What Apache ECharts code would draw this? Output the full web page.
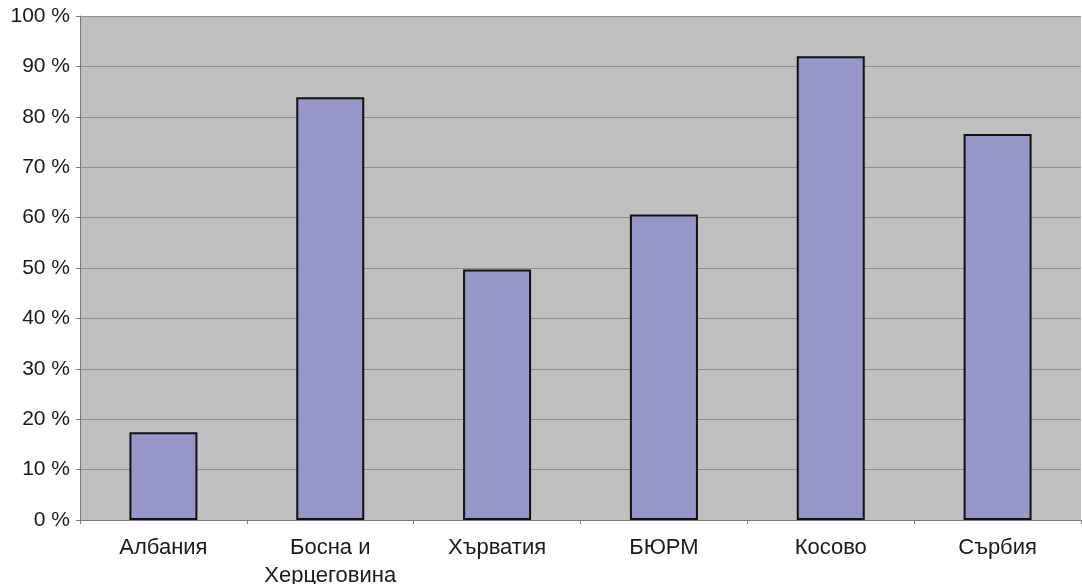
<!DOCTYPE html>
<html>
<head>
<meta charset="utf-8">
<script src="https://cdn.jsdelivr.net/npm/echarts@6/dist/echarts.min.js"></script>
<style>
  html, body { margin: 0; padding: 0; background: #ffffff; }
  #chart { width: 1082px; height: 584px; }
</style>
</head>
<body>
<div id="chart"></div>
<script>
// Countries along the x axis
const categories = ['Албания', 'Босна и\nХерцеговина', 'Хърватия', 'БЮРМ', 'Косово', 'Сърбия'];
// Share per country, in percent
const values = [17.4, 83.9, 49.7, 60.6, 92.0, 76.6];
// Y axis range and step, in percent
const yMin = 0;
const yMax = 100;
const yStep = 10;

const chart = echarts.init(document.getElementById('chart'), null, { renderer: 'canvas' });

const font = 'Liberation Sans, Arial, sans-serif';

chart.setOption({
  animation: false,
  grid: {
    left: 80,
    right: 1,
    top: 16,
    bottom: 64,
    outerBoundsMode: 'none',
    containLabel: false,
    show: true,
    backgroundColor: '#c0c0c0',
    borderWidth: 0
  },
  xAxis: {
    type: 'category',
    data: categories,
    axisLine: { show: true, lineStyle: { color: '#7a7a7a', width: 1 } },
    axisTick: { show: true, length: 4, alignWithLabel: false, lineStyle: { color: '#7a7a7a' } },
    axisLabel: {
      color: '#1a1a1a',
      fontFamily: font,
      fontSize: 22,
      margin: 14,
      lineHeight: 28,
      interval: 0
    },
    splitLine: { show: false }
  },
  yAxis: {
    type: 'value',
    min: yMin,
    max: yMax,
    interval: yStep,
    axisLine: { show: true, lineStyle: { color: '#7a7a7a', width: 1 } },
    axisTick: { show: true, length: 4, lineStyle: { color: '#7a7a7a' } },
    axisLabel: {
      color: '#1a1a1a',
      fontFamily: font,
      fontSize: 21,
      margin: 10,
      formatter: v => v + ' %'
    },
    splitLine: { show: true, lineStyle: { color: '#8e8e8e', width: 1 } }
  },
  series: [{
    type: 'bar',
    data: values,
    barWidth: 68,
    itemStyle: {
      color: '#9696c9',
      borderColor: '#111111',
      borderWidth: 2
    }
  }]
});
</script>
</body>
</html>
